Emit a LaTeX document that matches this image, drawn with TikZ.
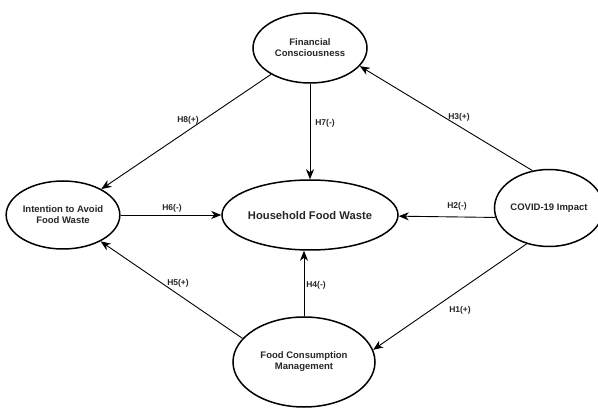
\documentclass[tikz,border=0pt]{standalone}
\usepackage{fontspec}
\setmainfont{Liberation Sans}
\usetikzlibrary{arrows.meta, shapes.geometric}

\begin{document}
\begin{tikzpicture} [x=1pt, y=-1pt, align=center, >={Stealth[length=10pt, width=8pt, inset=3pt]},
  construct/.style={ellipse, draw, line width=1.5pt, inner sep=0pt, font=\fontsize{9.5}{11}\selectfont\bfseries, text=black!85},
  hyp/.style={font=\fontsize{8.5}{10}\selectfont\bfseries, text=black!85, inner sep=0pt},
  link/.style={->, line width=0.9pt}]
\useasboundingbox (0,0) rectangle (598,409);
\path (310, 48) node[construct, minimum width=114pt, minimum height=70pt] (fc) {Financial\\Consciousness}
(63, 215) node[construct, minimum width=100pt, minimum height=68pt] (ia) {Intention to Avoid\\Food Waste}
(310, 215) node[construct, minimum width=176pt, minimum height=70pt, font=\fontsize{11.2}{13}\selectfont\bfseries] (hfw) {Household Food Waste}
(549, 208) node[construct, minimum width=95pt, minimum height=77pt] (cov) {COVID-19 Impact}
(304, 362) node[construct, minimum width=142pt, minimum height=90pt] (fcm) {Food Consumption\\Management}

(188,120) node[hyp] (h8) {H8(+)}
(325,123) node[hyp] (h7) {H7(-)}
(459,117) node[hyp] (h3) {H3(+)}
(172,208) node[hyp] (h6) {H6(-)}
(457,206) node[hyp] (h2) {H2(-)}
(178,283) node[hyp] (h5) {H5(+)}
(316,285) node[hyp] (h4) {H4(-)}
(460,310) node[hyp] (h1) {H1(+)};

\draw[link] (fc) to (ia);
\draw[link] (fc) to (hfw);
\draw[link] (cov.114) to (fc.-20);
\draw[link] (ia) to (hfw);
\draw[link] (cov.190) to (hfw);
\draw[link] (fcm.159) to (ia.-35);
\draw[link] (fcm.north) to (fcm.north |- hfw.south);
\draw[link] (cov.238) to (fcm.10);
\end{tikzpicture}
\end{document}
